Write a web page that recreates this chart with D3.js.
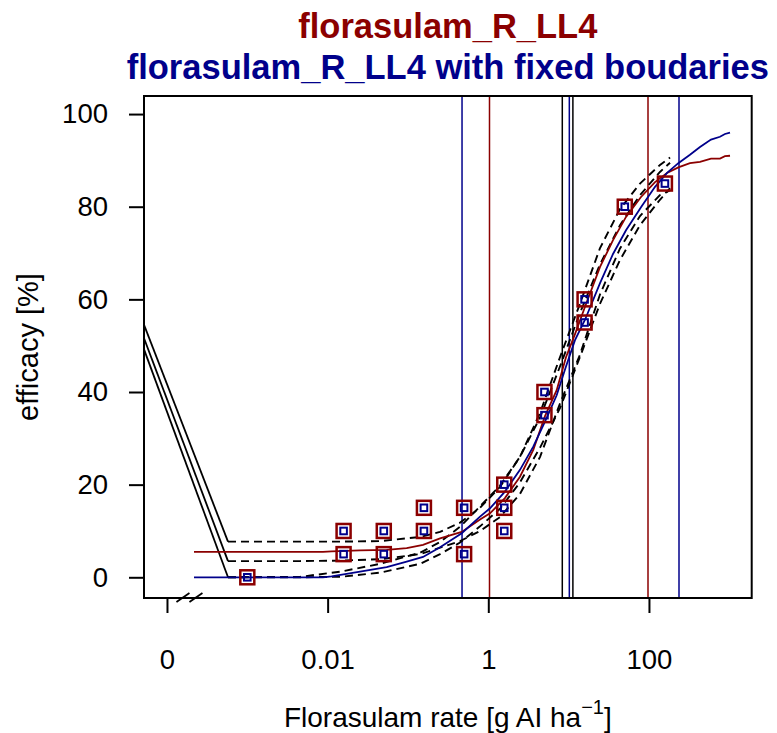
<!DOCTYPE html>
<html>
<head>
<meta charset="utf-8">
<script src="https://cdn.jsdelivr.net/npm/d3@7"></script>
<style>
  body { margin: 0; background: #fff; }
  svg text { font-family: "Liberation Sans", Arial, sans-serif; fill: #000; }
</style>
</head>
<body>
<div id="root"></div>
<script>
// observed efficacy (%) per dose (g AI/ha)
const obsDose = [0.001, 0.0158, 0.0158, 0.05, 0.05, 0.158, 0.158, 0.5, 0.5,
                 1.58, 1.58, 1.58, 5, 5, 15.8, 15.8, 50, 158];
const obsEff  = [0, 10, 5, 10, 5, 15, 10, 15, 5,
                 20, 15, 10, 40, 35, 60, 55, 80, 85];

// fitted curves
const fitDose = [0.000217, 0.00875, 0.0112, 0.0253, 0.0543, 0.0964, 0.154, 0.251, 0.467,
                 0.789, 1.05, 1.61, 2.48, 3.63, 5.08, 7.10, 9.27, 12.0, 16.0, 24.6,
                 35.7, 51.8, 79.6, 119, 168, 232, 324, 432, 592, 766, 883, 1021];
const redFit  = [5.5, 5.5, 5.6, 5.8, 5.9, 6.3, 7.0, 8.4, 9.8,
                 12.5, 13.8, 17.1, 21.7, 27.5, 34.8, 40.4, 47.5, 52.5, 58.4, 67.0,
                 72.8, 77.8, 82.1, 85.3, 87.3, 88.5, 89.4, 89.7, 90.4, 90.4, 90.9, 91.0];
const blueFit = [0, 0, 0.2, 1.2, 2.2, 3.4, 4.4, 6.5, 9.5,
                 13.1, 14.9, 18.5, 23.2, 28.2, 33.6, 39.3, 45.5, 51.2, 55.6, 63.5,
                 69.8, 74.9, 79.9, 84.3, 87.3, 89.4, 91.2, 92.9, 94.5, 95.1, 95.7, 96.0];

// confidence bands (dashed)
const ciDose    = [0.000575, 0.00453, 0.0143, 0.0449, 0.141, 0.251, 0.445, 0.789, 1.40,
                   2.48, 4.41, 7.80, 13.8, 24.5, 43.6, 77.3, 137, 183];
const redUpper  = [7.7, 7.7, 7.7, 7.8, 8.7, 9.8, 11.8, 15.0, 19.5,
                   26.0, 35.5, 47.5, 59.0, 71.0, 79.5, 85.0, 89.0, 90.6];
const redLower  = [3.5, 3.5, 3.6, 3.9, 5.0, 6.4, 7.8, 10.0, 13.0,
                   18.0, 26.0, 37.5, 48.0, 61.0, 71.0, 78.0, 82.5, 83.5];
const blueUpper = [0, 0.1, 1.2, 2.9, 5.3, 7.6, 10.9, 15.3, 19.8,
                   26.0, 34.5, 45.5, 57.0, 67.5, 76.0, 82.5, 87.5, 89.5];
const blueLower = [0, 0, 0.1, 1.0, 2.9, 5.0, 7.5, 11.0, 14.8,
                   20.5, 28.0, 36.5, 47.5, 59.0, 68.5, 76.0, 81.5, 84.0];

// solid segments running in from the left edge
const leftDose  = [5.18e-5, 0.000575];
const leftStart = [54.5, 51.6, 49.2];
const leftEnd   = [7.7, 3.5, 0];

// vertical reference lines (doses)
const redLines   = [1.035, 97.3];
const blueLines  = [0.471, 10.2, 236.6];
const blackLines = [8.34, 11.3];

const xTicks = [1e-4, 0.01, 1, 100];
const xTickLabels = ["0", "0.01", "1", "100"];
const yTicks = [0, 20, 40, 60, 80, 100];
const breakDose = Math.pow(10, -3.72);

const RED = "#8B0000", BLUE = "#00008B";
const W = 777, H = 733;
const pL = 144, pR = 751.7, pT = 96, pB = 598;

const svg = d3.select("#root").append("svg")
  .attr("width", W).attr("height", H);

const x = d3.scaleLog()
  .domain([Math.pow(10, -4.286), Math.pow(10, 3.279)])
  .range([pL, pR]);
const y = d3.scaleLinear()
  .domain([-4.47, 103.9])
  .range([pB, pT]);

svg.append("clipPath").attr("id", "plotclip")
  .append("rect")
  .attr("x", pL).attr("y", pT)
  .attr("width", pR - pL).attr("height", pB - pT);

const plot = svg.append("g").attr("clip-path", "url(#plotclip)");

// vertical lines
function vlines(vals, color) {
  plot.append("g").selectAll("line")
    .data(vals).enter().append("line")
    .attr("x1", d => x(d)).attr("x2", d => x(d))
    .attr("y1", pT).attr("y2", pB)
    .attr("stroke", color).attr("stroke-width", 1.5);
}
vlines(blackLines, "#000");
vlines(redLines, RED);
vlines(blueLines, BLUE);

// left solid segments
plot.append("g").selectAll("line")
  .data(leftStart).enter().append("line")
  .attr("x1", x(leftDose[0])).attr("x2", x(leftDose[1]))
  .attr("y1", d => y(d)).attr("y2", (d, i) => y(leftEnd[i]))
  .attr("stroke", "#000").attr("stroke-width", 1.8);

const line = d3.line().x(d => x(d[0])).y(d => y(d[1]));

// confidence bands
[redUpper, redLower, blueUpper, blueLower].forEach(s => {
  plot.append("path")
    .datum(ciDose.map((d, i) => [d, s[i]]))
    .attr("d", line)
    .attr("fill", "none")
    .attr("stroke", "#000")
    .attr("stroke-width", 1.9)
    .attr("stroke-dasharray", "8,5");
});

// fitted curves
plot.append("path")
  .datum(fitDose.map((d, i) => [d, redFit[i]]))
  .attr("d", line).attr("fill", "none")
  .attr("stroke", RED).attr("stroke-width", 1.8);
plot.append("path")
  .datum(fitDose.map((d, i) => [d, blueFit[i]]))
  .attr("d", line).attr("fill", "none")
  .attr("stroke", BLUE).attr("stroke-width", 1.8);

// observations: big red square with small blue square inside
const pts = obsDose.map((d, i) => [d, obsEff[i]]);
plot.append("g").selectAll("rect")
  .data(pts).enter().append("rect")
  .attr("x", d => x(d[0]) - 7).attr("y", d => y(d[1]) - 7)
  .attr("width", 14).attr("height", 14)
  .attr("fill", "none").attr("stroke", RED).attr("stroke-width", 2.5);
plot.append("g").selectAll("rect")
  .data(pts).enter().append("rect")
  .attr("x", d => x(d[0]) - 3.3).attr("y", d => y(d[1]) - 3.3)
  .attr("width", 6.6).attr("height", 6.6)
  .attr("fill", "none").attr("stroke", BLUE).attr("stroke-width", 2);

// box
svg.append("rect")
  .attr("x", pL).attr("y", pT)
  .attr("width", pR - pL).attr("height", pB - pT)
  .attr("fill", "none").attr("stroke", "#000").attr("stroke-width", 2);

// axes
const yAxis = svg.append("g")
  .attr("transform", `translate(${pL},0)`)
  .call(d3.axisLeft(y).tickValues(yTicks).tickSize(15).tickPadding(21));
const xAxis = svg.append("g")
  .attr("transform", `translate(0,${pB})`)
  .call(d3.axisBottom(x).tickValues(xTicks)
    .tickFormat((d, i) => xTickLabels[i]).tickSize(15).tickPadding(36));
[yAxis, xAxis].forEach(a => {
  a.select(".domain").remove();
  a.selectAll("line").attr("stroke", "#000").attr("stroke-width", 2);
  a.selectAll("text").attr("font-size", 27.5)
    .attr("font-family", '"Liberation Sans", Arial, sans-serif');
});

// axis break marks
const bx = x(breakDose);
svg.append("g").selectAll("line")
  .data([-6.5, 6.5]).enter().append("line")
  .attr("x1", d => bx + d - 6.5).attr("y1", pB + 4)
  .attr("x2", d => bx + d + 6.5).attr("y2", pB - 5)
  .attr("stroke", "#000").attr("stroke-width", 1.8);

// titles
const cx = (pL + pR) / 2;
svg.append("text").attr("x", cx).attr("y", 38)
  .attr("text-anchor", "middle").attr("font-size", 34.5)
  .attr("font-weight", "bold").style("fill", RED)
  .text("florasulam_R_LL4");
svg.append("text").attr("x", cx).attr("y", 79)
  .attr("text-anchor", "middle").attr("font-size", 34.5)
  .attr("font-weight", "bold").style("fill", BLUE)
  .text("florasulam_R_LL4 with fixed boudaries");

// axis titles
const xt = svg.append("text").attr("x", cx).attr("y", 727)
  .attr("text-anchor", "middle").attr("font-size", 28);
xt.append("tspan").text("Florasulam rate [g AI ha");
xt.append("tspan").attr("dy", -13).attr("font-size", 20).text("\u22121");
xt.append("tspan").attr("dy", 13).text("]");

svg.append("text")
  .attr("transform", `translate(38,${(pT + pB) / 2}) rotate(-90)`)
  .attr("text-anchor", "middle").attr("font-size", 29)
  .text("efficacy [%]");
</script>
</body>
</html>
